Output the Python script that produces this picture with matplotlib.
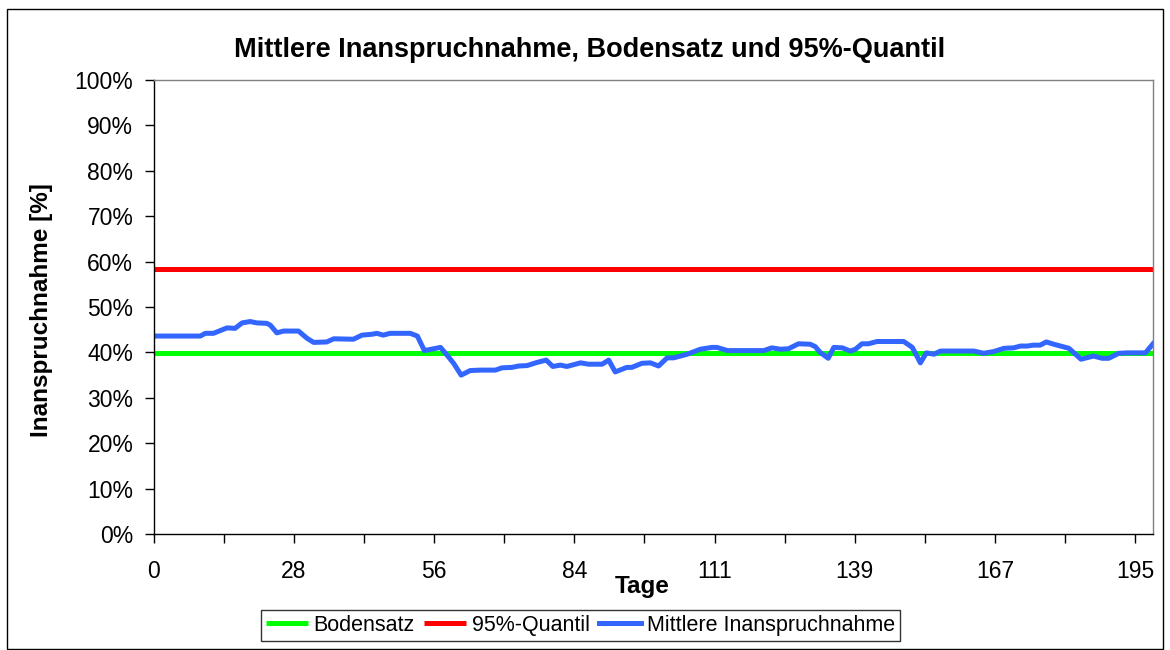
import matplotlib
matplotlib.use("Agg")
import matplotlib.pyplot as plt
from matplotlib.patches import Rectangle
from matplotlib.ticker import FixedLocator, FuncFormatter

plt.rcParams['font.family'] = ['Liberation Sans', 'DejaVu Sans']

title = "Mittlere Inanspruchnahme, Bodensatz und 95%-Quantil"
x_label = "Tage"
y_label = "Inanspruchnahme [%]"
series_names = ["Bodensatz", "95%-Quantil", "Mittlere Inanspruchnahme"]

bodensatz = 39.8
quantil_95 = 58.4

days = [0, 9.3, 10.3, 11.9, 14.6, 16.2, 17.6, 19.2, 20.5, 22.5, 23.2, 24.5, 25.8, 28.8,
        30.5, 31.8, 34.4, 35.8, 39.7, 41.4, 43.4, 44.4, 45.6, 47.0, 51.0, 52.4, 53.8,
        57.0, 58.3, 59.6, 61.1, 62.9, 64.9, 67.9, 69.2, 71.2, 72.5, 74.2, 76.2, 78.0,
        79.3, 80.8, 82.1, 84.8, 86.4, 89.1, 90.4, 91.7, 94.0, 95.0, 97.0, 98.7, 100.3,
        102.0, 103.3, 106.0, 108.6, 110.9, 111.9, 114.0, 121.2, 122.8, 124.5, 126.1,
        128.1, 130.4, 131.4, 132.4, 134.0, 135.1, 136.8, 138.4, 139.4, 140.7, 142.0,
        143.7, 149.0, 150.7, 152.3, 153.5, 155.0, 156.3, 162.9, 164.9, 166.9, 168.9,
        170.8, 172.2, 173.5, 174.8, 176.1, 177.3, 178.8, 181.8, 184.2, 186.7, 188.4,
        189.7, 191.7, 193.4, 197.0, 198.5]
mittlere = [43.6, 43.6, 44.2, 44.2, 45.4, 45.3, 46.5, 46.8, 46.5, 46.4, 46.0, 44.3, 44.7,
            44.7, 43.1, 42.2, 42.3, 43.0, 42.9, 43.8, 44.0, 44.2, 43.8, 44.2, 44.2, 43.6,
            40.4, 41.1, 39.4, 37.6, 35.0, 36.0, 36.1, 36.1, 36.6, 36.7, 37.0, 37.1, 37.8,
            38.3, 36.9, 37.2, 36.9, 37.7, 37.4, 37.4, 38.3, 35.7, 36.7, 36.7, 37.6, 37.7,
            37.0, 38.8, 38.8, 39.6, 40.7, 41.1, 41.1, 40.4, 40.4, 41.0, 40.7, 40.8, 41.9,
            41.8, 41.3, 40.0, 38.7, 41.1, 41.0, 40.3, 40.7, 41.9, 41.9, 42.4, 42.4, 41.1,
            37.7, 39.9, 39.6, 40.3, 40.3, 39.8, 40.2, 40.9, 41.0, 41.4, 41.4, 41.6, 41.6,
            42.3, 41.8, 40.9, 38.5, 39.2, 38.7, 38.7, 39.8, 39.9, 39.9, 41.9]

x_tick_labels = ["0", "28", "56", "84", "111", "139", "167", "195"]
x_end = 198.5

W, H = 1170, 650
fig = plt.figure(figsize=(W / 100, H / 100), dpi=100)
ax = fig.add_axes([153.5 / W, 1 - 534 / H, (1153 - 153.5) / W, (534 - 80) / H])

l1, = ax.plot([0, x_end], [bodensatz, bodensatz], color='#00FF00', lw=3.6, solid_capstyle='butt')
l2, = ax.plot([0, x_end], [quantil_95, quantil_95], color='#FF0000', lw=3.6, solid_capstyle='butt')
l3, = ax.plot(days, mittlere, color='#3366FF', lw=3.6, solid_joinstyle='round')

ax.set_xlim(0, x_end)
ax.set_ylim(0, 100)
step = 195 / 7
ax.xaxis.set_major_locator(FixedLocator([i * step for i in range(8)]))
ax.set_xticklabels(x_tick_labels)
ax.xaxis.set_minor_locator(FixedLocator([(i + 0.5) * step for i in range(7)]))
ax.set_yticks(range(0, 101, 10))
ax.yaxis.set_major_formatter(FuncFormatter(lambda v, p: f"{int(round(v))}%"))

ax.tick_params(axis='both', which='both', direction='out', length=6.5, width=1.0, color='black')
ax.tick_params(axis='x', which='major', labelsize=16.5, pad=12)
ax.tick_params(axis='y', which='major', labelsize=16.5, pad=8)

for s in ['left', 'bottom']:
    ax.spines[s].set_color('black')
    ax.spines[s].set_linewidth(1.0)
for s in ['top', 'right']:
    ax.spines[s].set_color('#808080')
    ax.spines[s].set_linewidth(1.0)

fig.text(590 / W, 1 - 50 / H, title, ha='center', va='center', fontsize=19.5, fontweight='bold')
fig.text(642 / W, 1 - 586 / H, x_label, ha='center', va='center', fontsize=17.5, fontweight='bold')
fig.text(42 / W, 1 - 310 / H, y_label, ha='center', va='center', rotation=90, fontsize=17.5, fontweight='bold')

leg = fig.legend([l1, l2, l3], series_names, loc='center', bbox_to_anchor=(580.5 / W, 1 - 625.5 / H),
                 ncol=3, fontsize=15.5, frameon=True, fancybox=False, handlelength=1.95,
                 handletextpad=0.25, columnspacing=0.45, borderpad=0.25, borderaxespad=0)
leg.get_frame().set_edgecolor('black')
leg.get_frame().set_linewidth(1.0)

fig.patches.append(Rectangle((7 / W, 1 / H), (1163 - 7) / W, (641 - 1) / H, transform=fig.transFigure,
                             fill=False, edgecolor='black', linewidth=1.0))

fig.savefig("out.png", dpi=100)
